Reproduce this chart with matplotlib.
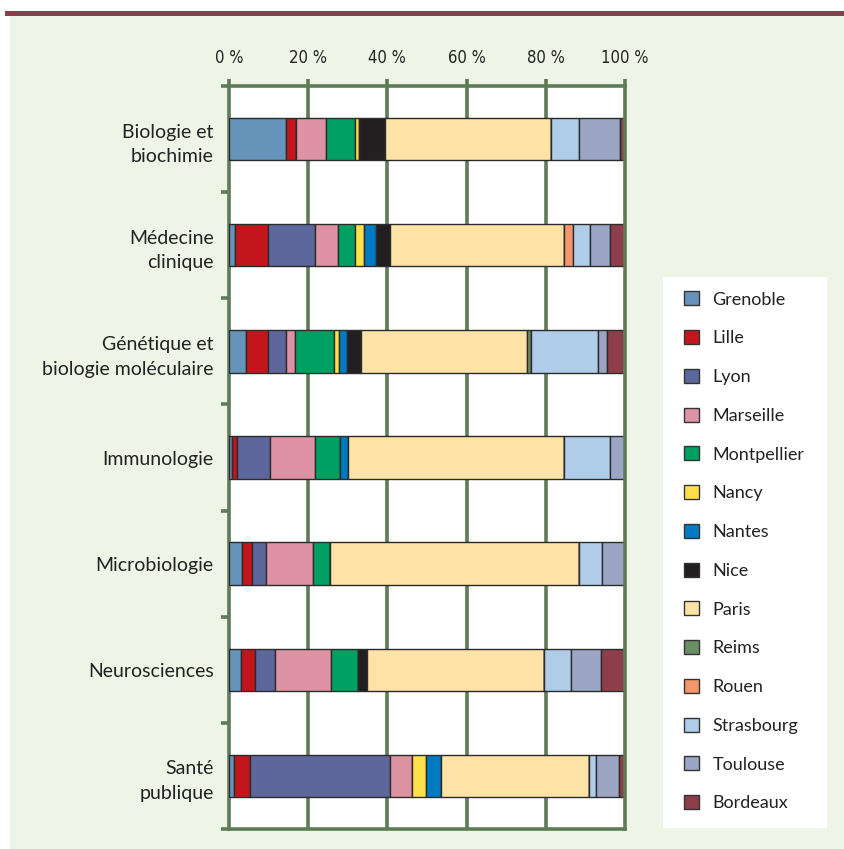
import numpy as np
import matplotlib.pyplot as plt
from matplotlib.patches import Rectangle, Patch
from matplotlib.ticker import FixedLocator

# categories (top to bottom)
categories = ["Biologie et\nbiochimie", "Médecine\nclinique",
              "Génétique et\nbiologie moléculaire", "Immunologie",
              "Microbiologie", "Neurosciences", "Santé\npublique"]

cities = ["Grenoble", "Lille", "Lyon", "Marseille", "Montpellier", "Nancy",
          "Nantes", "Nice", "Paris", "Reims", "Rouen", "Strasbourg",
          "Toulouse", "Bordeaux"]

# share (%) of each city per discipline, same order as categories
grenoble    = [14.3, 1.5, 4.2, 0.8, 3.3, 3.1, 1.3]
lille       = [2.7, 8.4, 5.7, 1.2, 2.4, 3.5, 3.9]
lyon        = [0.0, 11.7, 4.6, 8.3, 3.7, 5.1, 35.5]
marseille   = [7.6, 6.0, 2.2, 11.5, 11.9, 14.0, 5.6]
montpellier = [7.2, 4.3, 9.9, 6.3, 4.1, 6.8, 0.0]
nancy       = [1.0, 2.2, 1.1, 0.0, 0.0, 0.0, 3.5]
nantes      = [0.0, 3.0, 2.1, 2.0, 0.0, 0.0, 3.8]
nice        = [6.7, 3.6, 3.6, 0.0, 0.0, 2.4, 0.0]
paris       = [41.7, 43.9, 41.8, 54.6, 63.0, 44.7, 37.3]
reims       = [0.0, 0.0, 1.0, 0.0, 0.0, 0.0, 0.0]
rouen       = [0.0, 2.2, 0.0, 0.0, 0.0, 0.0, 0.0]
strasbourg  = [7.3, 4.3, 17.1, 11.5, 5.7, 6.7, 1.9]
toulouse    = [10.3, 5.2, 2.1, 3.9, 5.8, 7.6, 5.6]
bordeaux    = [1.3, 3.6, 4.5, 0.0, 0.0, 6.2, 1.8]

series = [grenoble, lille, lyon, marseille, montpellier, nancy, nantes, nice,
          paris, reims, rouen, strasbourg, toulouse, bordeaux]

colors = ["#6593BA", "#C3151C", "#5D679B", "#DD93A3", "#00A063", "#FFE04A",
          "#007AC2", "#231F20", "#FFE2A6", "#6C8E64", "#F5956B", "#AFCDE9",
          "#9CA6C4", "#8E3E4A"]

xticks = [0, 20, 40, 60, 80, 100]

GREEN = "#5E7B58"
BG = "#EEF4E6"
W, H = 845, 849

fig = plt.figure(figsize=(W / 100, H / 100), dpi=100)
fig.patch.set_facecolor("white")

# panel background and top rule
fig.patches.append(Rectangle((10 / W, 0), 1 - 10 / W, 1 - 15 / H,
                             transform=fig.transFigure, facecolor=BG,
                             edgecolor="none", zorder=-10))
fig.patches.append(Rectangle((5 / W, 1 - 16 / H), 1 - 5 / W, 5 / H,
                             transform=fig.transFigure, facecolor="#8E3E4A",
                             edgecolor="none", zorder=-9))

ax = fig.add_axes([229 / W, 1 - 829 / H, (625 - 229) / W, (829 - 86) / H])
ax.set_facecolor("white")

y = np.arange(len(categories))
left = np.zeros(len(categories))
for name, vals, col in zip(cities, series, colors):
    vals = np.array(vals)
    ax.barh(y, vals, left=left, height=0.4, color=col, edgecolor="#2b2b2b",
            linewidth=1.0, label=name, zorder=3)
    left += vals

ax.set_xlim(0, 100)
ax.set_ylim(len(categories) - 0.5, -0.5)

for v in xticks[1:-1]:
    ax.axvline(v, color=GREEN, lw=2.6, zorder=1)

for s in ax.spines.values():
    s.set_color(GREEN)
    s.set_linewidth(2.6)
ax.spines["right"].set_zorder(4)

ax.xaxis.tick_top()
ax.set_xticks(xticks)
ax.set_xticklabels([f"{v} %" for v in xticks], fontsize=12, color="#222222",
                   fontstretch="condensed")
ax.tick_params(axis="x", direction="out", length=5, width=2.6, color=GREEN, pad=9)

ax.set_yticks(y)
ax.set_yticklabels(categories, fontsize=14, family="Lato", color="#222222",
                   linespacing=1.55, ha="right")
ax.tick_params(axis="y", which="major", length=0, pad=11)
ax.yaxis.set_minor_locator(FixedLocator(np.arange(-0.5, len(categories), 1.0)))
ax.tick_params(axis="y", which="minor", direction="out", length=6, width=2.6,
               color=GREEN)

# legend in a white box
fig.patches.append(Rectangle((663 / W, 1 - 828 / H), (827 - 663) / W, (828 - 277) / H,
                             transform=fig.transFigure, facecolor="white",
                             edgecolor="none", zorder=-5))
handles = [Patch(facecolor=c, edgecolor="#333333", linewidth=1.0) for c in colors]
leg = fig.legend(handles, cities, loc="upper left",
                 bbox_to_anchor=(670 / W, 1 - 277 / H), frameon=False,
                 prop={"family": "Lato", "size": 13}, labelspacing=1.25,
                 handlelength=0.8, handleheight=0.8, handletextpad=0.75,
                 borderpad=0.3)
for t in leg.get_texts():
    t.set_color("#222222")

fig.savefig("out.png", dpi=100, facecolor=fig.get_facecolor())
